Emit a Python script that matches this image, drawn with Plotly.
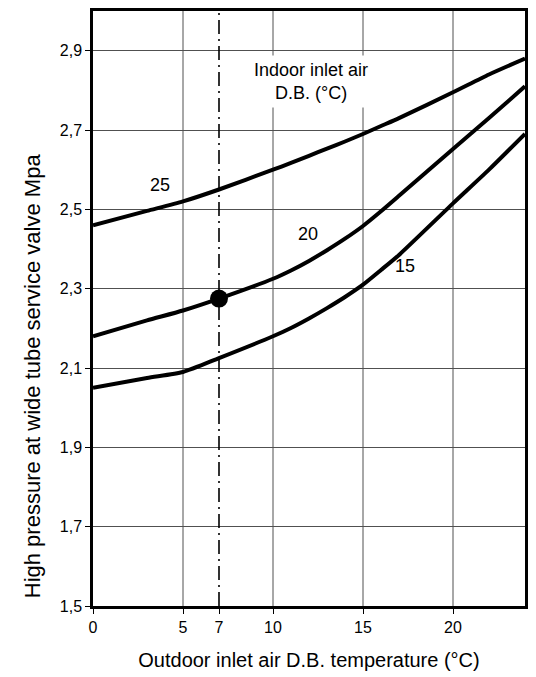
import plotly.graph_objects as go

# Outdoor inlet air dry-bulb temperature (°C)
outdoor_t = [0, 3, 5, 7, 10, 11, 12, 13, 14, 15, 16, 17, 20, 22, 24]

# High pressure at wide tube service valve (MPa) per indoor inlet air D.B.
p_indoor_25 = [2.46, 2.496, 2.52, 2.55, 2.60, 2.617, 2.635, 2.653, 2.671, 2.69, 2.71, 2.73, 2.795, 2.84, 2.88]
p_indoor_20 = [2.18, 2.22, 2.245, 2.275, 2.325, 2.346, 2.37, 2.397, 2.426, 2.458, 2.495, 2.534, 2.652, 2.73, 2.81]
p_indoor_15 = [2.05, 2.075, 2.09, 2.125, 2.18, 2.201, 2.225, 2.251, 2.279, 2.31, 2.347, 2.385, 2.515, 2.60, 2.69]

series = [("25", p_indoor_25), ("20", p_indoor_20), ("15", p_indoor_15)]

# Curve labels: (text, x, y)
curve_labels = [("25", 3.7, 2.561), ("20", 11.95, 2.437), ("15", 17.35, 2.357)]

# Reference operating point
ref_t = 7
ref_p = 2.275

x_ticks = [0, 5, 7, 10, 15, 20]
x_grid = [5, 10, 15, 20]
y_ticks = [1.5, 1.7, 1.9, 2.1, 2.3, 2.5, 2.7, 2.9]

FONT = "Liberation Sans, Arial, sans-serif"

fig = go.Figure()

for name, vals in series:
    fig.add_trace(go.Scatter(
        x=outdoor_t, y=vals, mode="lines", name=name,
        line=dict(color="black", width=4, shape="spline", smoothing=0.6),
        showlegend=False, hoverinfo="skip",
    ))

fig.add_trace(go.Scatter(
    x=[ref_t], y=[ref_p], mode="markers",
    marker=dict(color="black", size=18),
    showlegend=False, hoverinfo="skip",
))

# Vertical grid lines
for gx in x_grid:
    fig.add_shape(type="line", xref="x", yref="paper", x0=gx, x1=gx, y0=0, y1=1,
                  line=dict(color="#505050", width=1), layer="below")

# Dash-dot line at the reference outdoor temperature
fig.add_shape(type="line", xref="x", yref="paper", x0=ref_t, x1=ref_t, y0=0, y1=1,
              line=dict(color="black", width=1.6, dash="14px,5px,2px,5px"), layer="above")

for text, lx, ly in curve_labels:
    fig.add_annotation(x=lx, y=ly, text=text, showarrow=False,
                       font=dict(family=FONT, size=18, color="black"))

fig.add_annotation(x=12.1, y=2.822, text="Indoor inlet air<br>D.B. (°C)", showarrow=False,
                   font=dict(family=FONT, size=18, color="black"),
                   bgcolor="white", borderpad=4, align="center")

# Vertical axis title, set a little below the plot's middle
fig.add_annotation(xref="paper", yref="paper", x=-0.14, y=0.387,
                   xanchor="center", yanchor="middle", textangle=-90,
                   text="High pressure at wide tube service valve Mpa", showarrow=False,
                   font=dict(family=FONT, size=22, color="black"))

fig.update_layout(
    width=536, height=677,
    margin=dict(l=93, r=8, t=8, b=70),
    paper_bgcolor="white", plot_bgcolor="white",
    separators=",.",
    font=dict(family=FONT, size=16, color="black"),
    xaxis=dict(
        range=[0, 24], tickvals=x_ticks, ticktext=[str(v) for v in x_ticks],
        showgrid=False, zeroline=False,
        showline=True, linecolor="black", linewidth=2.5, mirror=True,
        ticks="outside", ticklen=5, tickcolor="black", tickwidth=1,
        tickfont=dict(family=FONT, size=16, color="black"),
        title=dict(text="Outdoor inlet air D.B. temperature (°C)",
                   font=dict(family=FONT, size=20, color="black"), standoff=19),
    ),
    yaxis=dict(
        range=[1.5, 3.0], tickvals=y_ticks, tickformat=".1f",
        showgrid=True, gridcolor="#505050", gridwidth=1, zeroline=False,
        showline=True, linecolor="black", linewidth=2.5, mirror=True,
        ticks="outside", ticklen=5, tickcolor="black", tickwidth=1,
        tickfont=dict(family=FONT, size=16, color="black"),
    ),
)

fig.write_html("out.html")
